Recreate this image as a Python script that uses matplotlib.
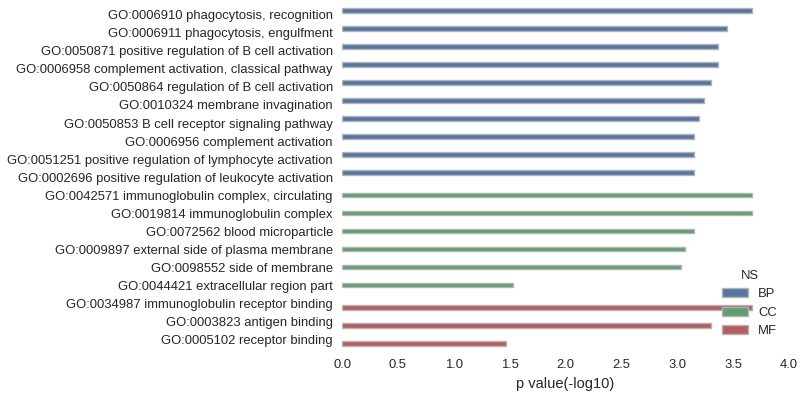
import matplotlib
matplotlib.use("Agg")
import matplotlib.pyplot as plt
import seaborn as sns
import pandas as pd

terms = [
    "GO:0006910 phagocytosis, recognition",
    "GO:0006911 phagocytosis, engulfment",
    "GO:0050871 positive regulation of B cell activation",
    "GO:0006958 complement activation, classical pathway",
    "GO:0050864 regulation of B cell activation",
    "GO:0010324 membrane invagination",
    "GO:0050853 B cell receptor signaling pathway",
    "GO:0006956 complement activation",
    "GO:0051251 positive regulation of lymphocyte activation",
    "GO:0002696 positive regulation of leukocyte activation",
    "GO:0042571 immunoglobulin complex, circulating",
    "GO:0019814 immunoglobulin complex",
    "GO:0072562 blood microparticle",
    "GO:0009897 external side of plasma membrane",
    "GO:0098552 side of membrane",
    "GO:0044421 extracellular region part",
    "GO:0034987 immunoglobulin receptor binding",
    "GO:0003823 antigen binding",
    "GO:0005102 receptor binding",
]
ns = ["BP"] * 10 + ["CC"] * 6 + ["MF"] * 3
pvals = [3.67, 3.445, 3.365, 3.365, 3.30, 3.24, 3.195, 3.15, 3.15, 3.15,
         3.67, 3.67, 3.15, 3.07, 3.03, 1.53,
         3.67, 3.30, 1.465]
hue_order = ["BP", "CC", "MF"]
xticks = [0.0, 0.5, 1.0, 1.5, 2.0, 2.5, 3.0, 3.5, 4.0]

df = pd.DataFrame({"term": terms, "NS": ns, "p": pvals})

sns.set_style("white")
plt.rcParams['font.family'] = ['Liberation Sans', 'DejaVu Sans']

fig = plt.figure(figsize=(8.04, 3.97), dpi=100)
ax = fig.add_axes([0.4254, 0.1234, 0.9813 - 0.4254, 0.9849 - 0.1234])
palette = ["#4C72B0", "#55A868", "#C44E52"]
sns.barplot(data=df, y="term", x="p", hue="NS", hue_order=hue_order,
            palette=palette, orient="h", ax=ax, width=0.8, dodge=True,
            edgecolor="0.7", linewidth=1.0)
ax.set_xlim(0, 4.0)
ax.set_xticks(xticks)
ax.set_xticklabels([f"{t:.1f}" for t in xticks])
ax.set_ylabel("")
ax.set_xlabel("p value(-log10)", fontsize=10.5, color="0.15", labelpad=4)
ax.tick_params(axis="both", labelsize=9.4, length=0, colors="0.15")
ax.tick_params(axis="y", pad=6.5)
ax.tick_params(axis="x", pad=8)
for s in ax.spines.values():
    s.set_visible(False)
leg = ax.legend(title="NS", loc="lower right", frameon=False, fontsize=9.4,
                title_fontsize=9.4, bbox_to_anchor=(1.0, -0.003),
                handlelength=2.0, handleheight=0.7, labelspacing=0.48,
                handletextpad=0.8)
fig.savefig("out.png", dpi=100)
